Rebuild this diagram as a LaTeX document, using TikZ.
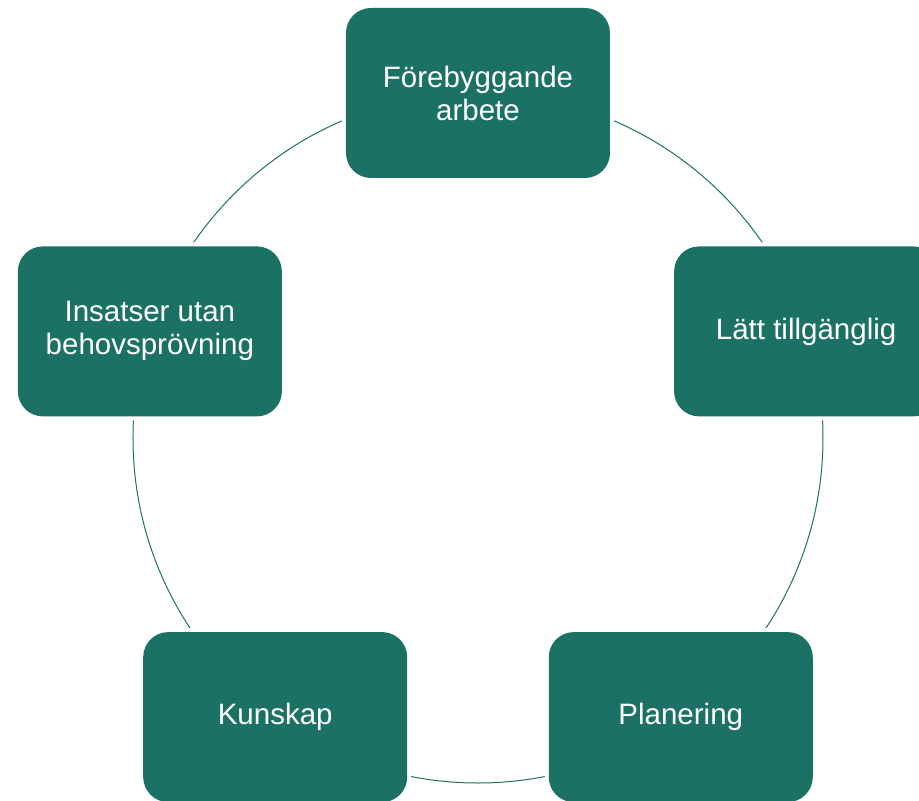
\documentclass[tikz,border=0pt]{standalone}
\usepackage{fontspec}
\setmainfont{Liberation Sans}
\usetikzlibrary{positioning}
\definecolor{stagegreen}{HTML}{1B7264}

\begin{document}
\begin{tikzpicture}[
    x=1pt, y=1pt,
    stage/.style={rectangle, rounded corners=25pt, fill=stagegreen, minimum width=264pt, minimum height=170pt, inner sep=0pt, align=center, text=white, font=\fontsize{29.5}{33}\selectfont, preaction={draw=white, line width=8pt}},
    ring/.style={draw=stagegreen, line width=1pt}
]
    \useasboundingbox (-478,-363) rectangle (441,438);
    \clip (-478,-363) rectangle (441,438);
    \coordinate (hub) at (0,0);
    \draw[ring] (hub) circle (345);

    \node[stage] (prevent) at (90:345) {Förebyggande\\arbete};
    \node[stage] (access) at (18:345) {Lätt tillgänglig};
    \node[stage] (plan) at (-54:345) {Planering};
    \node[stage] (know) at (-126:345) {Kunskap};
    \node[stage] (efforts) at (162:345) {Insatser utan\\behovsprövning};
\end{tikzpicture}
\end{document}
